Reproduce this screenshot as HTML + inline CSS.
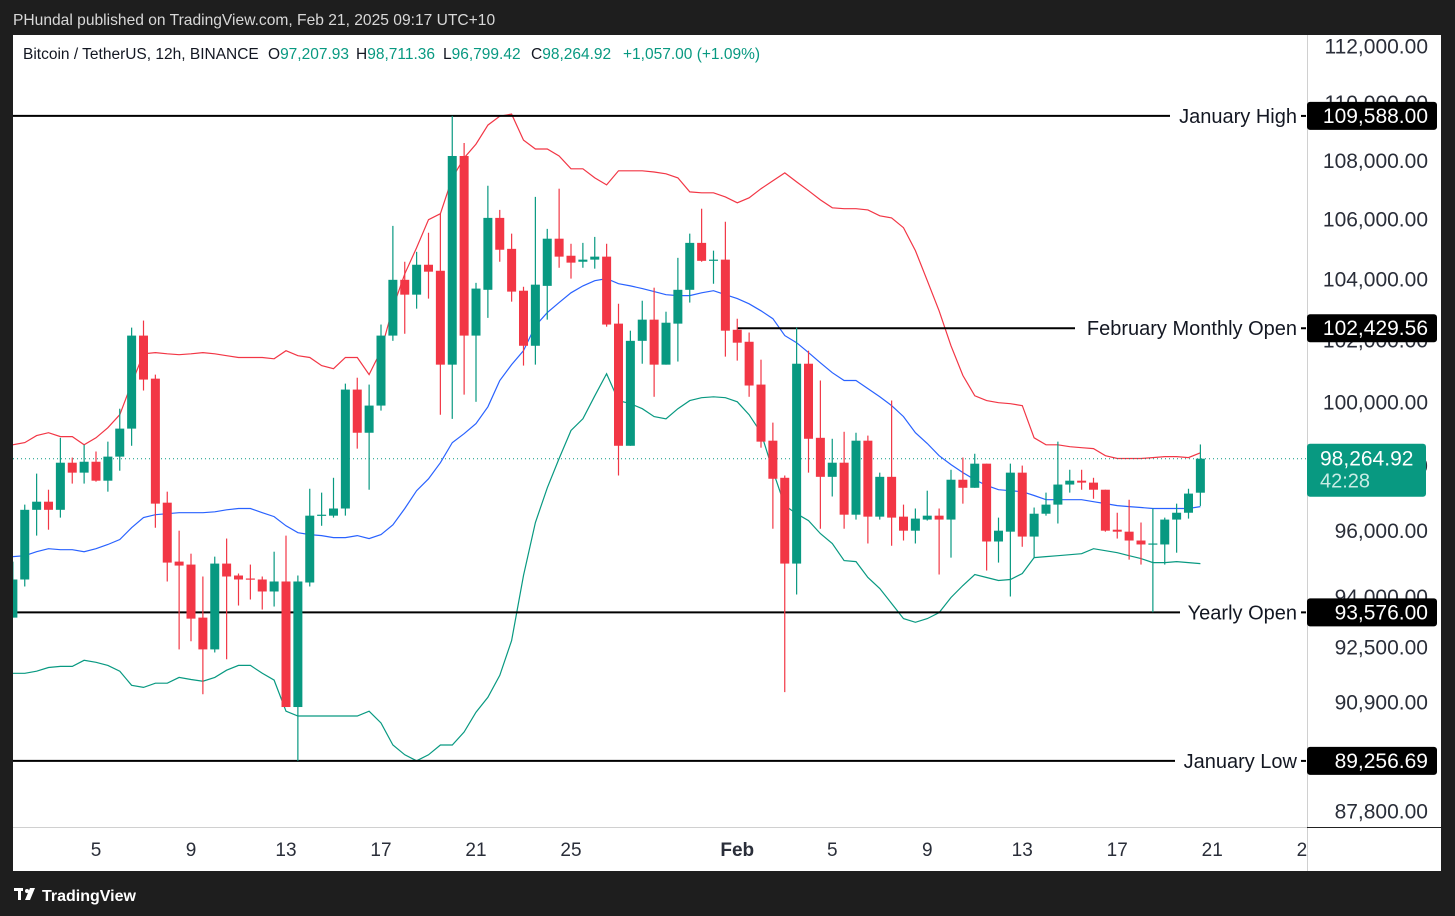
<!DOCTYPE html>
<html><head><meta charset="utf-8"><style>
html,body{margin:0;padding:0;background:#1e1e1e;}
svg{display:block;font-family:"Liberation Sans",sans-serif;}
</style></head><body>
<svg id="chart" width="1455" height="916" viewBox="0 0 1455 916" xmlns="http://www.w3.org/2000/svg">
<defs><clipPath id="plotClip"><rect x="13" y="35" width="1294" height="792"/></clipPath>
<clipPath id="xClip"><rect x="13" y="827" width="1294" height="44"/></clipPath></defs>
<rect x="0" y="0" width="1455" height="916" fill="#1e1e1e"/>
<text x="13" y="25" fill="#d8d8d8" font-size="15.6">PHundal published on TradingView.com, Feb 21, 2025 09:17 UTC+10</text>
<rect x="13" y="35" width="1428" height="836" fill="#ffffff"/>
<line x1="1307.5" y1="35" x2="1307.5" y2="871" stroke="#d0d0d0" stroke-width="1"/>
<line x1="13" y1="827.5" x2="1307" y2="827.5" stroke="#d0d0d0" stroke-width="1"/>
<line x1="1307" y1="827.5" x2="1441" y2="827.5" stroke="#222" stroke-width="1"/>
<g id="yTicksG"></g>
<g id="bands" clip-path="url(#plotClip)"></g>
<g id="levels"></g>
<g id="candles" clip-path="url(#plotClip)"></g>
<g id="xTicksG" clip-path="url(#xClip)"></g>
<g id="labelsG"></g>
<g font-size="15.5">
<text x="23" y="59" fill="#131722">Bitcoin / TetherUS, 12h, BINANCE</text>
<text x="268" y="59" fill="#131722">O<tspan fill="#089981">97,207.93</tspan></text>
<text x="356" y="59" fill="#131722">H<tspan fill="#089981">98,711.36</tspan></text>
<text x="443" y="59" fill="#131722">L<tspan fill="#089981">96,799.42</tspan></text>
<text x="531" y="59" fill="#131722">C<tspan fill="#089981">98,264.92</tspan></text>
<text x="623" y="59" fill="#089981">+1,057.00 (+1.09%)</text>
</g>
<g>
<rect x="14" y="888" width="9" height="3" fill="#fff"/><rect x="18" y="888" width="3" height="12" fill="#fff"/>
<circle cx="27" cy="891" r="2" fill="#fff"/><polygon points="30,888 35,888 30,900 25,900" fill="#fff"/>
<text x="42" y="901" font-size="16" fill="#fff" font-weight="bold">TradingView</text></g>
</svg>
<script>
const opens=[93420,94560,96680,96930,96680,98140,97830,98170,97580,98330,99210,102190,100800,96900,95100,95010,93420,92480,95040,94680,94590,94560,94200,94500,90800,94470,96500,96500,96720,100450,99080,99940,102190,104020,103530,104520,104320,101250,108200,102190,103690,106090,105050,103660,101860,103820,105390,104820,104620,104690,104790,102580,98670,102020,102710,101250,102580,103690,105250,104650,104690,102380,101990,100610,98830,97670,95040,101280,98920,97700,98140,96530,98830,96470,97700,96470,96040,96380,96500,96380,97610,97360,98110,95710,96010,97830,95860,96560,96840,97460,97580,97520,97300,96070,96010,95740,95620,95620,96380,96590,97207.93];
const highs=[95100,96840,97800,97300,98920,98300,98700,98490,98800,99840,102450,102680,100930,97240,96040,95340,94650,95250,95800,94740,95010,94650,95400,95890,94680,97330,97210,97670,100640,100830,100610,102550,105820,104620,104950,105590,106230,109588,108650,103920,107180,106360,105560,103790,106800,105720,107080,105220,105250,105450,105220,103230,102350,103330,103760,102970,104750,105560,106400,104990,105960,102740,102290,101410,99400,97740,102450,101700,100740,98890,99110,99080,98990,97830,100100,96840,96720,97270,96720,97920,98300,98420,98110,96440,98110,98050,96750,97210,98800,97920,97920,97670,97300,96590,96990,96290,96720,96440,96870,97330,98711.36];
const lows=[93420,94350,95890,96070,96440,97490,97490,97550,97240,97890,98670,100420,96130,94500,92480,92720,91170,92390,92190,93780,93960,93660,93750,90800,89257,94350,96190,96440,96500,98580,97300,99780,102020,102250,103070,103400,99650,99520,100290,100060,102770,104620,103300,101220,101250,102710,104420,104060,104420,104390,102480,97740,98670,101280,100220,101250,101350,103270,104620,103890,101510,101380,100220,98610,96100,91230,94110,97830,96100,97090,96100,96380,95650,96380,95580,95740,95650,96350,94710,95220,96870,97360,94830,95070,94050,95550,95220,96500,96260,97210,97300,97020,96010,95800,95160,95010,93580,95010,95370,96410,96799.42];
const closes=[94560,96680,96930,96680,98140,97830,98170,97580,98330,99210,102190,100770,96870,95070,94980,93390,92480,95040,94650,94560,94560,94200,94500,90800,94500,96500,96530,96720,100450,99080,99940,102190,104020,103530,104520,104290,101250,108200,102190,103730,106090,105020,103630,101860,103860,105390,104790,104590,104690,104790,102550,98670,102020,102710,101250,102610,103690,105250,104650,104690,102350,101960,100580,98800,97640,95040,101280,98890,97700,98140,96530,98830,96470,97700,96440,96040,96410,96500,96380,97610,97360,98110,95710,96040,97830,95860,96560,96840,97460,97580,97520,97300,96040,96010,95740,95620,95650,96380,96590,97180,98264.92];
const bbUpper=[98700,98770,98990,99080,98960,98960,98700,98920,99240,99650,100640,101600,101640,101600,101570,101600,101640,101600,101540,101480,101480,101480,101440,101700,101540,101480,101220,101120,101480,101480,100930,101700,103100,104220,105090,106030,106230,107450,108130,108610,109270,109580,109650,108750,108440,108440,108200,107760,107760,107450,107210,107690,107690,107690,107650,107590,107450,106970,106940,106940,106800,106600,106770,107080,107350,107620,107310,107010,106700,106430,106400,106400,106360,106160,106090,105760,104990,103990,103000,101860,100900,100250,100100,100030,100000,99940,98920,98700,98700,98640,98610,98580,98360,98270,98270,98270,98300,98330,98330,98300,98450];
const bbMid=[95250,95280,95400,95490,95460,95460,95400,95490,95620,95770,96130,96440,96530,96560,96590,96590,96590,96620,96680,96720,96720,96590,96470,96190,95980,95920,95890,95830,95830,95890,95800,95920,96220,96720,97270,97640,98140,98770,99050,99370,99900,100740,101250,101700,102510,102940,103270,103590,103820,103990,104060,103890,103820,103730,103630,103530,103500,103500,103590,103660,103530,103400,103230,103000,102740,102190,101960,101640,101310,100990,100740,100740,100480,100220,99940,99590,99080,98740,98360,98080,97830,97610,97430,97300,97270,97240,97120,96990,96990,96990,96990,96930,96870,96810,96780,96750,96720,96720,96720,96720,96780];
const bbLower=[91780,91780,91840,91950,91980,91980,92160,92100,92010,91840,91430,91370,91490,91490,91660,91600,91550,91660,91870,92010,92010,91780,91580,90680,90540,90540,90540,90540,90540,90540,90680,90340,89710,89430,89260,89430,89710,89710,90080,90650,91080,91720,92740,94680,96290,97360,98270,99150,99520,100250,100960,100100,100000,99840,99590,99520,99840,100100,100190,100220,100190,100060,99650,99080,97890,96810,96560,96350,95950,95650,95130,95100,94620,94290,93840,93390,93280,93390,93570,94020,94380,94710,94620,94530,94560,94740,95220,95250,95280,95310,95340,95490,95430,95370,95280,95190,95070,95070,95100,95070,95040];
const yTickValues=[112000,110000,108000,106000,104000,102000,100000,98000,96000,94000,92500,90900,87800];
const xTickDays=[4,8,12,16,20,24,31,35,39,43,47,51,55];
const xTickLabels=["5","9","13","17","21","25","Feb","5","9","13","17","21","25"];
const levelNames=["January High","February Monthly Open","Yearly Open","January Low"];
const levelValues=[109588,102429.56,93576,89256.69];
const levelLabels=["109,588.00","102,429.56","93,576.00","89,256.69"];
const lastPrice=98264.92;
const lastPriceLabel="98,264.92";
const countdown="42:28";

const NS="http://www.w3.org/2000/svg";
const GREEN="#089981",RED="#f23645";
const lnTop=Math.log(112000);
function yScale(p){return 47.5+(lnTop-Math.log(p))*3143;}
function xDay(d){return 1+23.75*d;}
function xCandle(k){return xDay(0.5+0.5*k);}
function mk(tag,attrs,parent){const e=document.createElementNS(NS,tag);for(const k in attrs)e.setAttribute(k,attrs[k]);parent.appendChild(e);return e;}
function fmt(v){return v.toLocaleString('en-US',{minimumFractionDigits:2,maximumFractionDigits:2});}

const yG=document.getElementById('yTicksG');
yTickValues.forEach(v=>{
  const t=mk('text',{x:1428,y:yScale(v)+6,'text-anchor':'end','font-size':21,fill:'#2a2e39'},yG);
  
  
  t.textContent=fmt(v);
});

const bG=document.getElementById('bands');
function band(arr,color,name){
  const pts=arr.map((v,k)=>xCandle(k).toFixed(1)+','+yScale(v).toFixed(1)).join(' ');
  const pl=mk('polyline',{points:pts,fill:'none',stroke:color,'stroke-width':1.2},bG);
  
  
}
band(bbUpper,RED,'bb-upper-band');
band(bbMid,'#2962ff','bb-basis');
band(bbLower,GREEN,'bb-lower-band');

const lp=mk('line',{x1:13,x2:1307,y1:yScale(lastPrice),y2:yScale(lastPrice),stroke:GREEN,'stroke-width':1,'stroke-dasharray':'1 3'},bG);



const cG=document.getElementById('candles');
for(let k=0;k<opens.length;k++){
  const x=xCandle(k),o=opens[k],c=closes[k],up=c>=o,col=up?GREEN:RED;
  const w=mk('line',{x1:x,x2:x,y1:yScale(highs[k]),y2:yScale(lows[k]),stroke:col,'stroke-width':1.2},cG);
  
  
  const yt=yScale(Math.max(o,c)),yb=yScale(Math.min(o,c));
  const r=mk('rect',{x:x-4.5,y:yt,width:9,height:Math.max(1.2,yb-yt),fill:col},cG);
  
  
}

const lvG=document.getElementById('levels');
const lineStarts=[13,737,13,13];
const lineEnds=[1170,1075,1180,1175];
levelValues.forEach((v,i)=>{
  const y=yScale(v);
  const l=mk('line',{x1:lineStarts[i],x2:lineEnds[i],y1:y,y2:y,stroke:'#000','stroke-width':2},lvG);
  
  
  const t=mk('text',{x:1297,y:y+7,'text-anchor':'end','font-size':20,fill:'#131722'},lvG);
  
  
  t.textContent=levelNames[i];
  mk('line',{x1:1301,x2:1306,y1:y,y2:y,stroke:'#000','stroke-width':2},lvG);
});

const xG=document.getElementById('xTicksG');
xTickDays.forEach((d,i)=>{
  const t=mk('text',{x:xDay(d),y:856,'text-anchor':'middle','font-size':19,fill:'#2a2e39','font-weight':xTickLabels[i]==='Feb'?'bold':'normal'},xG);
  
  
  t.textContent=xTickLabels[i];
});

const lG=document.getElementById('labelsG');
levelValues.forEach((v,i)=>{
  const y=yScale(v);
  const r=mk('rect',{x:1307,y:y-14,width:130,height:28,rx:3,fill:'#000'},lG);
  
  
  const t=mk('text',{x:1428,y:y+7,'text-anchor':'end','font-size':21,fill:'#fff'},lG);
  
  
  t.textContent=levelLabels[i];
});
const ly=yScale(lastPrice);
const pr=mk('rect',{x:1307,y:ly-15,width:119,height:53,rx:3,fill:GREEN},lG);


const pt=mk('text',{x:1320,y:ly+7,'font-size':21,fill:'#fff'},lG);


pt.textContent=lastPriceLabel;
const ct=mk('text',{x:1320,y:ly+29,'font-size':20,fill:'#c8ece5'},lG);


ct.textContent=countdown;
</script>
</body></html>
